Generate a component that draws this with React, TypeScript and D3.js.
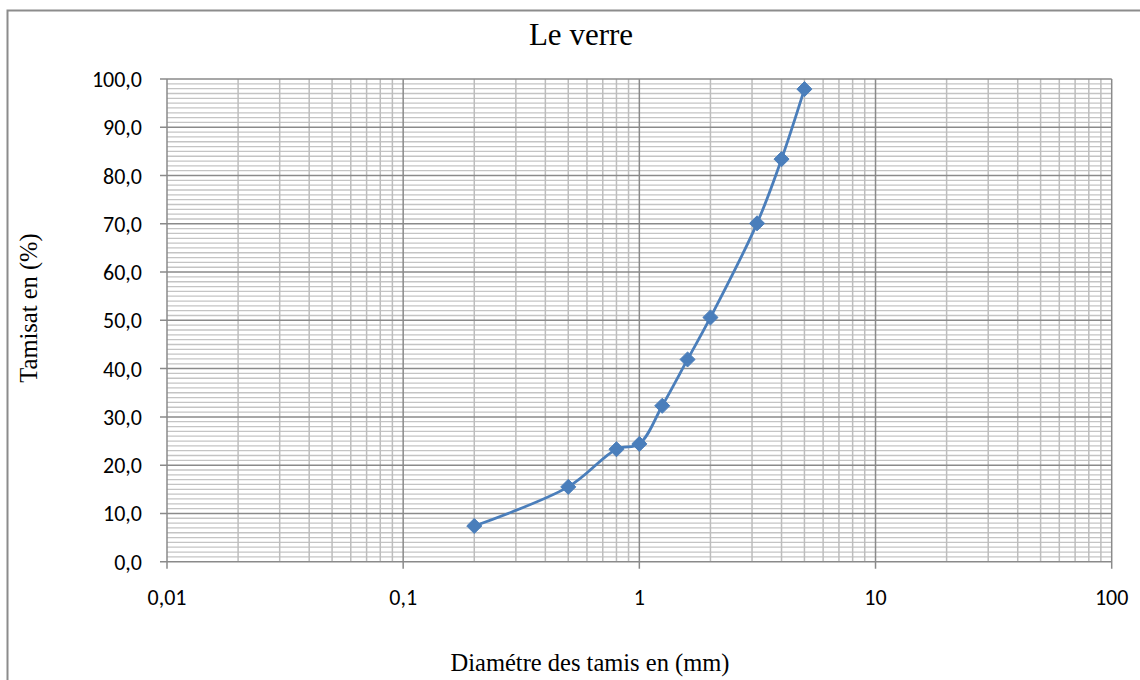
import React from "react";
import * as d3 from "d3";

const width = 1140;
const height = 680;
const margin = { top: 79, right: 28, bottom: 118, left: 167 };

// sieve sizes (mm) and passing (%)
const diametres = [0.2, 0.5, 0.8, 1, 1.25, 1.6, 2, 3.15, 4, 5];
const tamisat = [7.4, 15.5, 23.3, 24.4, 32.3, 41.9, 50.6, 70.1, 83.4, 97.9];

const xTicks = [0.01, 0.1, 1, 10, 100];
const xTickLabels = ["0,01", "0,1", "1", "10", "100"];
const yTicks = [0, 10, 20, 30, 40, 50, 60, 70, 80, 90, 100];

const title = "Le verre";
const xTitle = "Diamétre des tamis en (mm)";
const yTitle = "Tamisat en (%)";

const serif = "'Liberation Serif', 'Times New Roman', serif";
const sans = "Carlito, Lato, 'Liberation Sans', sans-serif";

export default function App() {
  const xScale = d3
    .scaleLog()
    .domain([0.01, 100])
    .range([margin.left, width - margin.right - 0.3]);
  const yScale = d3
    .scaleLinear()
    .domain([0, 100])
    .range([height - margin.bottom - 0.3, margin.top]);

  // minor vertical lines: 2..9 inside each decade
  const minorX: number[] = [];
  for (let d = 0.01; d < 100; d *= 10) {
    for (let k = 2; k <= 9; k++) minorX.push(+(d * k).toPrecision(3));
  }
  const minorY = d3.range(0, 101, 1).filter((v) => v % 10 !== 0);

  const line = d3
    .line<number>()
    .x((_, i) => xScale(diametres[i]))
    .y((v) => yScale(v))
    .curve(d3.curveCatmullRom.alpha(0.5));

  const diamond = d3.symbol().type(d3.symbolDiamond2).size(145)();

  const x0 = xScale.range()[0];
  const x1 = xScale.range()[1];
  const y0 = yScale.range()[0];
  const y1 = yScale.range()[1];

  return (
    <svg
      width={width}
      height={height}
      style={{ position: "absolute", left: 0, top: 0, background: "#fff" }}
    >
      <rect
        x={7.5}
        y={10.5}
        width={width + 10}
        height={height + 10}
        fill="none"
        stroke="#8c8c8c"
        strokeWidth={2}
      />
      {/* minor grid */}
      {minorY.map((v) => (
        <line
          key={"my" + v}
          x1={x0}
          x2={x1}
          y1={yScale(v)}
          y2={yScale(v)}
          stroke="#c4c4c4"
          strokeWidth={1.3}
        />
      ))}
      {minorX.map((v) => (
        <line
          key={"mx" + v}
          x1={xScale(v)}
          x2={xScale(v)}
          y1={y0}
          y2={y1}
          stroke="#bdbdbd"
          strokeWidth={1.5}
        />
      ))}
      {/* major grid */}
      {yTicks.map((v) => (
        <line
          key={"gy" + v}
          x1={x0 - 7}
          x2={x1}
          y1={yScale(v)}
          y2={yScale(v)}
          stroke="#8a8a8a"
          strokeWidth={1.5}
        />
      ))}
      {xTicks.map((v) => (
        <line
          key={"gx" + v}
          x1={xScale(v)}
          x2={xScale(v)}
          y1={y1}
          y2={y0 + 7}
          stroke="#8a8a8a"
          strokeWidth={1.5}
        />
      ))}
      {/* tick labels */}
      {yTicks.map((v) => (
        <text
          key={"ly" + v}
          x={142}
          y={yScale(v) + 8}
          textAnchor="end"
          fontFamily={sans}
          fontSize={22}
          fill="#000"
        >
          {v.toFixed(1).replace(".", ",")}
        </text>
      ))}
      {xTicks.map((v, i) => (
        <text
          key={"lx" + v}
          x={xScale(v)}
          y={605}
          textAnchor="middle"
          fontFamily={sans}
          fontSize={22}
          fill="#000"
        >
          {xTickLabels[i]}
        </text>
      ))}
      {/* series */}
      <path
        d={line(tamisat) || ""}
        fill="none"
        stroke="#4a7ebb"
        strokeWidth={2.8}
      />
      {tamisat.map((v, i) => (
        <path
          key={"p" + i}
          d={diamond || ""}
          transform={`translate(${xScale(diametres[i])},${yScale(v)})`}
          fill="#4a7ebb"
          stroke="#4a7ebb"
          strokeWidth={1}
        />
      ))}
      {/* titles */}
      <text
        x={581}
        y={45}
        textAnchor="middle"
        fontFamily={serif}
        fontSize={31}
        fill="#000"
      >
        {title}
      </text>
      <text
        x={590}
        y={671}
        textAnchor="middle"
        fontFamily={serif}
        fontSize={24.5}
        fill="#000"
      >
        {xTitle}
      </text>
      <text
        transform="translate(37,308) rotate(-90)"
        textAnchor="middle"
        fontFamily={serif}
        fontSize={24.5}
        fill="#000"
      >
        {yTitle}
      </text>
    </svg>
  );
}
